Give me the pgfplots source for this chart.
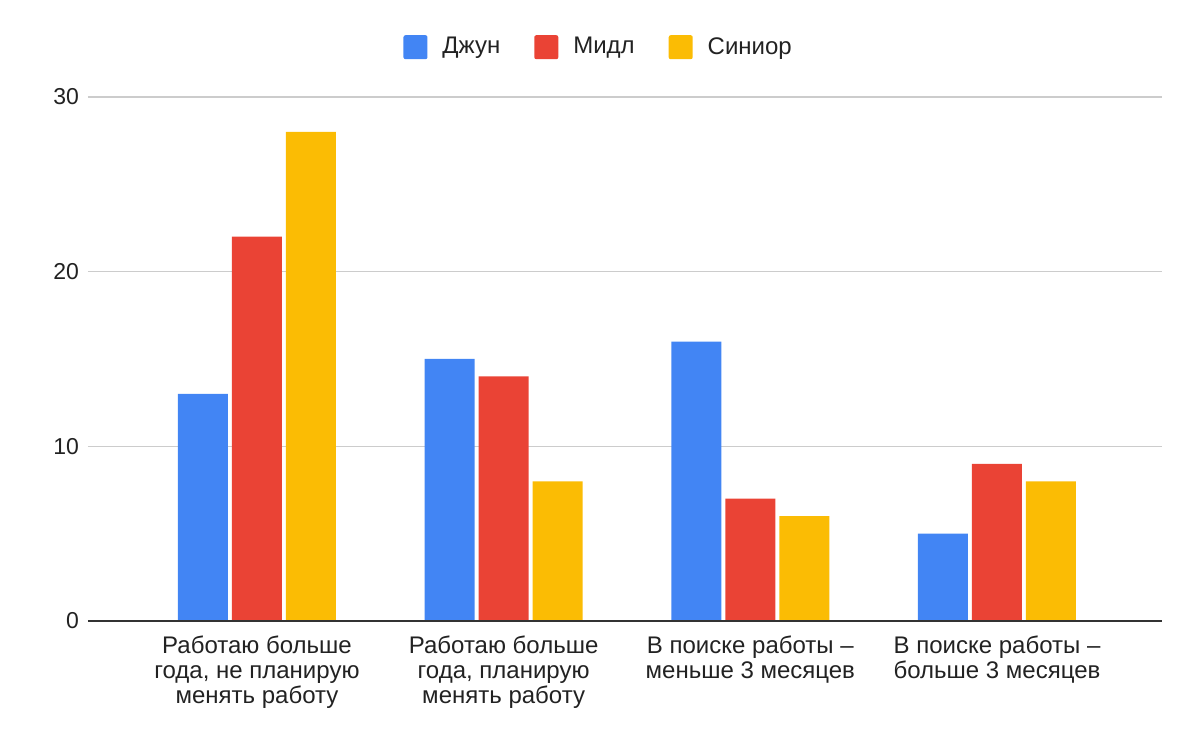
\documentclass[border=0pt]{standalone}
\usepackage{fontspec}
\setmainfont{Liberation Sans}
\usepackage{pgfplots}
\pgfplotsset{compat=1.18}
\definecolor{gblue}{HTML}{4285F4}
\definecolor{gred}{HTML}{EA4335}
\definecolor{gyellow}{HTML}{FBBC04}
\definecolor{gridgray}{HTML}{CCCCCC}
\definecolor{axisdark}{HTML}{333333}
\definecolor{txt}{HTML}{222222}
\begin{document}
\begin{tikzpicture}
\useasboundingbox (-44pt,-60.5pt) rectangle (556pt,310.5pt);
\begin{axis}[
  at={(0,0)}, anchor=south west,
  scale only axis,
  width=537pt, height=262pt,
  xmin=-0.685, xmax=3.669,
  ymin=0, ymax=30,
  ytick={0,10,20,30},
  xtick={0,1,2,3},
  xticklabels={{Работаю больше\\года, не планирую\\менять работу},{Работаю больше\\года, планирую\\менять работу},{В поиске работы –\\меньше 3 месяцев},{В поиске работы –\\больше 3 месяцев}},
  xticklabel style={align=center, font=\fontsize{12}{12.5}\selectfont, text=txt, yshift=-4pt},
  yticklabel style={font=\fontsize{11.5}{12}\selectfont, text=txt, xshift=-1pt},
  /pgf/number format/assume math mode=true,
  major tick length=0pt,
  axis line style={draw=none},
  ymajorgrids, grid style={gridgray, line width=0.6pt},
  ybar, bar width=25pt,
  legend columns=3,
  legend style={draw=none, fill=none, at={(0.4815,1.095)}, anchor=center,
    font=\fontsize{12}{13}\selectfont, text=txt,
    /tikz/every even column/.append style={column sep=9.5pt},
    nodes={inner xsep=7.5pt}},
  legend image code/.code={\fill[#1, rounded corners=1pt] (0pt,-6pt) rectangle (12pt,6pt);},
  clip=false,
]
\addplot[fill=gblue, draw=none, bar shift=-27pt] coordinates {(0,13) (1,15) (2,16) (3,5)};
\addplot[fill=gred, draw=none, bar shift=0pt] coordinates {(0,22) (1,14) (2,7) (3,9)};
\addplot[fill=gyellow, draw=none, bar shift=27pt] coordinates {(0,28) (1,8) (2,6) (3,8)};
\legend{Джун, Мидл, Синиор}
\draw[axisdark, line width=0.6pt] (rel axis cs:0,0) -- (rel axis cs:1,0);
\end{axis}
\end{tikzpicture}
\end{document}
